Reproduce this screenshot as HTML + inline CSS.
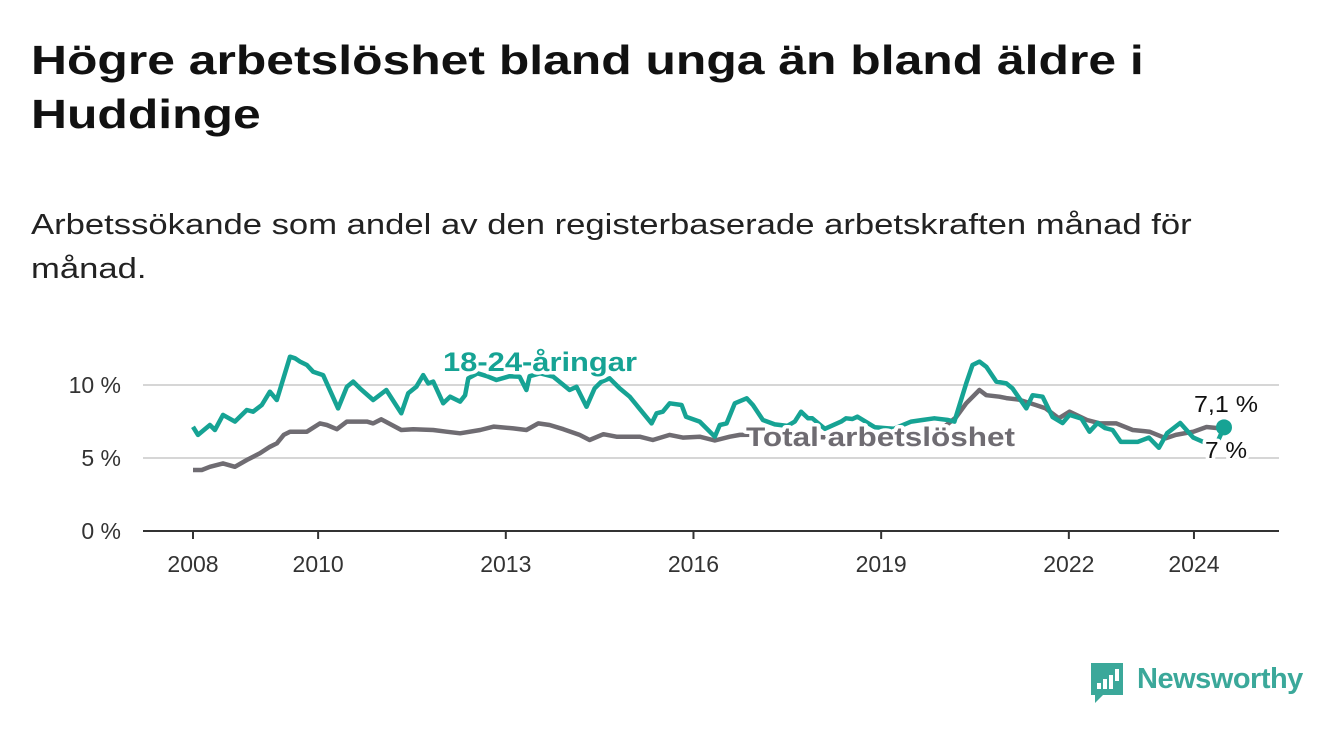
<!DOCTYPE html>
<html><head><meta charset="utf-8"><style>
body{margin:0;background:#fff;width:1340px;height:734px;overflow:hidden;font-family:"Liberation Sans",sans-serif}
.t{position:absolute;left:31px;top:33px;font-size:41px;font-weight:bold;color:#111;line-height:54px;margin:0;transform:scaleX(1.215);transform-origin:0 0;white-space:nowrap}
.s{position:absolute;left:31px;top:203px;font-size:28.5px;color:#222;line-height:44px;margin:0;transform:scaleX(1.215);transform-origin:0 0;white-space:nowrap}
</style></head><body>
<h1 class="t">Högre arbetslöshet bland unga än bland äldre i<br>Huddinge</h1>
<p class="s">Arbetssökande som andel av den registerbaserade arbetskraften månad för<br>månad.</p>
<svg id="c" width="1340" height="734" style="position:absolute;left:0;top:0"></svg>
<script>
const youthYears=[2008.0,2008.08,2008.27,2008.35,2008.48,2008.67,2008.86,2008.96,2009.1,2009.23,2009.34,2009.55,2009.63,2009.71,2009.82,2009.92,2010.08,2010.32,2010.46,2010.56,2010.67,2010.88,2011.09,2011.33,2011.44,2011.57,2011.68,2011.76,2011.84,2012.0,2012.11,2012.27,2012.35,2012.4,2012.55,2012.7,2012.85,2013.06,2013.22,2013.33,2013.38,2013.55,2013.76,2014.02,2014.13,2014.29,2014.42,2014.52,2014.66,2014.82,2014.98,2015.33,2015.41,2015.51,2015.62,2015.81,2015.88,2016.1,2016.34,2016.42,2016.53,2016.66,2016.85,2016.95,2017.11,2017.3,2017.5,2017.62,2017.72,2017.83,2017.9,2018.1,2018.36,2018.44,2018.54,2018.62,2018.9,2019.2,2019.48,2019.66,2019.85,2020.07,2020.17,2020.36,2020.46,2020.57,2020.68,2020.84,2021.0,2021.1,2021.32,2021.42,2021.58,2021.74,2021.9,2022.01,2022.2,2022.33,2022.46,2022.58,2022.7,2022.83,2023.1,2023.28,2023.44,2023.57,2023.78,2023.99,2024.15,2024.34,2024.48];
const youthVals=[7.14,6.58,7.26,6.92,7.95,7.49,8.29,8.17,8.63,9.54,8.97,11.94,11.83,11.6,11.37,10.91,10.68,8.4,9.88,10.23,9.77,8.97,9.66,8.06,9.43,9.88,10.68,10.11,10.23,8.75,9.2,8.86,9.3,10.46,10.8,10.6,10.34,10.6,10.57,9.66,10.6,10.8,10.57,9.66,9.88,8.51,9.77,10.2,10.46,9.77,9.2,7.37,8.06,8.17,8.75,8.63,7.83,7.49,6.46,7.26,7.37,8.75,9.09,8.63,7.6,7.3,7.2,7.49,8.17,7.72,7.72,7.0,7.49,7.72,7.67,7.83,7.1,7.0,7.49,7.6,7.72,7.6,7.49,10.11,11.37,11.6,11.25,10.23,10.11,9.77,8.4,9.3,9.2,7.8,7.4,7.95,7.7,6.8,7.4,7.05,6.92,6.1,6.1,6.4,5.7,6.7,7.4,6.4,6.1,5.75,7.1];
const totalYears=[2008.0,2008.14,2008.27,2008.48,2008.67,2008.86,2009.07,2009.23,2009.34,2009.45,2009.55,2009.82,2010.03,2010.14,2010.3,2010.46,2010.78,2010.88,2011.01,2011.33,2011.52,2011.84,2012.05,2012.27,2012.59,2012.81,2013.12,2013.33,2013.52,2013.7,2013.92,2014.18,2014.34,2014.56,2014.77,2015.14,2015.35,2015.62,2015.83,2016.1,2016.34,2016.58,2016.74,2017.2,2017.7,2018.2,2018.7,2019.2,2019.7,2020.0,2020.2,2020.36,2020.57,2020.68,2020.89,2021.0,2021.2,2021.47,2021.63,2021.84,2022.01,2022.29,2022.5,2022.76,2023.02,2023.29,2023.55,2023.71,2023.99,2024.2,2024.48];
const totalVals=[4.18,4.18,4.4,4.63,4.4,4.86,5.32,5.77,6.0,6.58,6.8,6.8,7.37,7.26,6.97,7.49,7.49,7.37,7.65,6.92,6.97,6.92,6.8,6.69,6.92,7.15,7.03,6.92,7.37,7.26,6.97,6.58,6.23,6.63,6.46,6.46,6.23,6.58,6.4,6.46,6.2,6.46,6.58,6.6,6.5,6.4,6.4,6.4,6.6,7.1,7.8,8.75,9.66,9.3,9.2,9.1,9.0,8.63,8.4,7.72,8.17,7.6,7.37,7.37,6.92,6.8,6.35,6.58,6.8,7.12,7.0];
const yTicks=[0,5,10];
const yTickLabels=["0 %","5 %","10 %"];
const xTicks=[2008,2010,2013,2016,2019,2022,2024];
const NS="http://www.w3.org/2000/svg";
const svg=document.getElementById('c');
const X=y=>193+(y-2008)*62.56;
const Y=v=>531-v*14.6;
function mk(t,a,p){const e=document.createElementNS(NS,t);for(const k in a)e.setAttribute(k,a[k]);(p||svg).appendChild(e);return e;}
yTicks.forEach((v,i)=>{
 if(v>0){const g=mk('line',{x1:143,x2:1279,y1:Y(v),y2:Y(v),stroke:'#d6d6d6','stroke-width':2});
 
 }
 const t=mk('text',{x:121,y:Y(v)+8,'text-anchor':'end','font-size':23,fill:'#333'});t.textContent=yTickLabels[i];
 
 
});
const ax=mk('line',{x1:143,x2:1279,y1:531,y2:531,stroke:'#333','stroke-width':2});


xTicks.forEach(y=>{
 mk('line',{x1:X(y),x2:X(y),y1:531,y2:539,stroke:'#333','stroke-width':2});
 const t=mk('text',{x:X(y),y:572,'text-anchor':'middle','font-size':23,fill:'#333'});t.textContent=y;
 
 
});
function line(xs,vs,col,name){
 const d=xs.map((x,i)=>(i?'L':'M')+X(x).toFixed(1)+','+Y(vs[i]).toFixed(1)).join('');
 const p=mk('path',{d:d,fill:'none',stroke:col,'stroke-width':4.5,'stroke-linejoin':'round'});
 
 
}
line(totalYears,totalVals,'#6f6c72','total-line');
line(youthYears,youthVals,'#16a394','youth-line');
const dot=mk('circle',{cx:X(youthYears[youthYears.length-1]),cy:Y(youthVals[youthVals.length-1]),r:8,fill:'#16a394'});


function lab(txt,x,y,col,size,bold,anchor,len,name){
 const t=mk('text',{x:x,y:y,'font-size':size,'font-weight':bold?'bold':'normal',fill:col,stroke:'#fff','stroke-width':7,'paint-order':'stroke','stroke-linejoin':'round','text-anchor':anchor,textLength:len,lengthAdjust:'spacingAndGlyphs'});
 t.textContent=txt;
 
 
}
lab('18-24-åringar',443,371,'#16a394',27,true,'start',194,'youth-series-label');
lab('Total arbetslöshet',746,446,'#6f6c72',27,true,'start',269,'total-series-label');
lab('7,1 %',1226,412,'#111',23,false,'middle',64,'youth-end-value');
lab('7 %',1226,458,'#111',23,false,'middle',42,'total-end-value');
</script>
<div style="position:absolute;left:1089px;top:661px;width:220px;height:44px">
<svg width="36" height="44" style="position:absolute;left:0;top:0"><path d="M2 2h32v32H14l-8 8v-8H2z" fill="#3ba89a"/><rect x="8" y="22" width="4" height="6" fill="#fff"/><rect x="14" y="18" width="4" height="10" fill="#fff"/><rect x="20" y="14" width="4" height="14" fill="#fff"/><rect x="26" y="8" width="4" height="12" fill="#fff"/></svg>
<span style="position:absolute;left:48px;top:2px;font-size:29px;color:#3ba89a;font-weight:bold;letter-spacing:-0.5px">Newsworthy</span>
</div>
</body></html>
